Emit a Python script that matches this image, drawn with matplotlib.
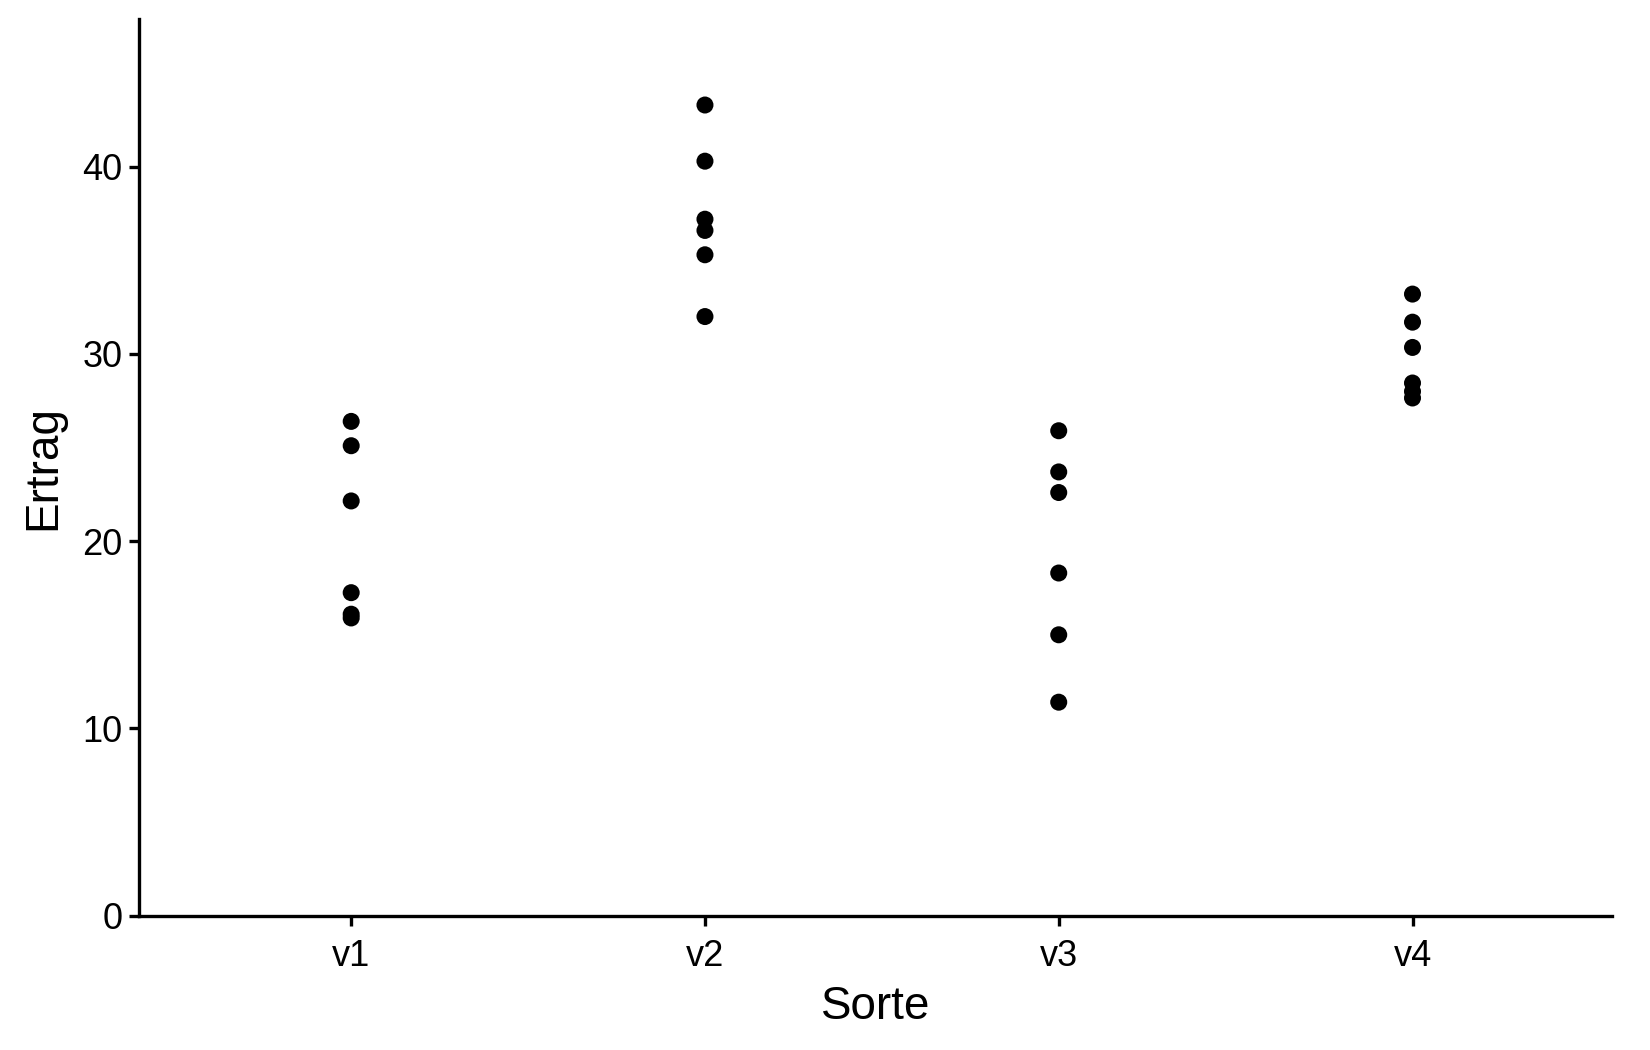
import matplotlib.pyplot as plt

plt.rcParams['font.family'] = ['Liberation Sans', 'DejaVu Sans']

# yield per variety
sorten = ['v1', 'v2', 'v3', 'v4']
ertrag_v1 = [26.4, 25.1, 22.15, 17.25, 16.1, 15.9]
ertrag_v2 = [43.3, 40.3, 37.2, 36.6, 35.3, 32.0]
ertrag_v3 = [25.9, 23.7, 22.6, 18.3, 15.0, 11.4]
ertrag_v4 = [33.2, 31.7, 30.35, 28.45, 28.0, 27.65]
werte = [ertrag_v1, ertrag_v2, ertrag_v3, ertrag_v4]

fig = plt.figure(figsize=(16.5, 10.5), dpi=100)
ax = fig.add_axes([0.0842, 0.128, 0.893, 0.854])

for i, vals in enumerate(werte):
    ax.scatter([i + 1] * len(vals), vals, s=150, color='black', edgecolors='none', zorder=3)

ax.set_xlim(0.4, 4.565)
ax.set_ylim(0, 47.9)
ax.set_xticks(range(1, len(sorten) + 1))
ax.set_xticklabels(sorten)
ax.set_yticks([0, 10, 20, 30, 40])

for side in ['top', 'right']:
    ax.spines[side].set_visible(False)
for side in ['left', 'bottom']:
    ax.spines[side].set_linewidth(2.4)

ax.tick_params(axis='both', length=7, width=2.4, labelsize=26, colors='black')
ax.tick_params(axis='x', pad=10)
ax.tick_params(axis='y', pad=5)

ax.set_xlabel('Sorte', fontsize=33, labelpad=8)
ax.set_ylabel('Ertrag', fontsize=33, labelpad=12)

fig.savefig('out.png', dpi=100)
